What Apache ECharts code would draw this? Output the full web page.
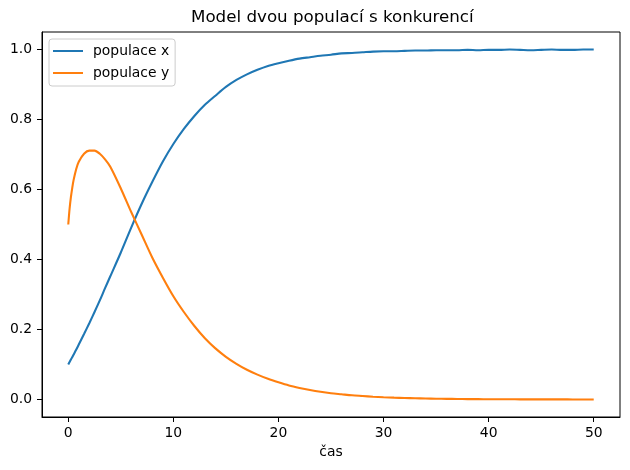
<!DOCTYPE html>
<html>
<head>
<meta charset="utf-8">
<script src="https://cdn.jsdelivr.net/npm/echarts@6/dist/echarts.min.js"></script>
<style>
html,body{margin:0;padding:0;background:#fff;}
#chart{width:630px;height:470px;}
</style>
</head>
<body>
<div id="chart"></div>
<script>
const titleText = 'Model dvou populací s konkurencí';
const xName = 'čas';
const seriesNames = ['populace x', 'populace y'];
const xTicks = [0, 10, 20, 30, 40, 50];
const yTicks = [0, 0.2, 0.4, 0.6, 0.8, 1.0];

const time = [0, 0.125, 0.25, 0.375, 0.5, 0.75, 1, 1.5, 2, 2.5, 3, 3.5, 4, 5, 6, 7, 8, 9, 10,
  11, 12, 13, 14, 15, 16, 17, 18, 19, 20, 21, 22, 23, 24, 25, 26, 27, 28, 29, 30,
  31, 32, 33, 34, 35, 36, 37, 38, 39, 40, 41, 42, 43, 44, 45, 46, 47, 48, 49, 50];

const popX = [0.100, 0.107, 0.114, 0.121, 0.128, 0.142, 0.157, 0.187, 0.218, 0.250, 0.283, 0.318, 0.352, 0.420, 0.492, 0.560, 0.622, 0.680, 0.730,
  0.773, 0.810, 0.842, 0.868, 0.893, 0.913, 0.929, 0.942, 0.953, 0.961, 0.968, 0.974, 0.978, 0.982, 0.985, 0.989, 0.990, 0.992, 0.994, 0.995,
  0.995, 0.996, 0.997, 0.997, 0.998, 0.998, 0.998, 0.999, 0.998, 0.999, 0.999, 1.000, 0.999, 0.998, 0.999, 1.000, 0.999, 0.999, 1.000, 1.000];

const popY = [0.500, 0.545, 0.578, 0.604, 0.626, 0.658, 0.679, 0.702, 0.711, 0.711, 0.702, 0.686, 0.665, 0.603, 0.535, 0.470, 0.405, 0.348, 0.295,
  0.250, 0.210, 0.175, 0.146, 0.122, 0.102, 0.085, 0.071, 0.059, 0.049, 0.040, 0.033, 0.027, 0.022, 0.018, 0.015, 0.012, 0.010, 0.008, 0.0065,
  0.0053, 0.0043, 0.0035, 0.0028, 0.0023, 0.0019, 0.0015, 0.0012, 0.0010, 0.0008, 0.0007, 0.0006, 0.0005, 0.0004, 0.0004, 0.0003, 0.0003, 0.0002, 0.0002, 0.0002];

const font = 'DejaVu Sans';
const chart = echarts.init(document.getElementById('chart'), null, {renderer: 'canvas'});
chart.setOption({
  backgroundColor: '#fff',
  animation: false,
  title: {
    text: titleText,
    left: 191, top: 9, padding: 0,
    textStyle: {fontFamily: font, fontSize: 16.7, fontWeight: 'normal', color: '#000'}
  },
  legend: {
    left: 49, top: 39,
    orient: 'vertical',
    icon: 'rect',
    itemWidth: 30, itemHeight: 2,
    itemGap: 6,
    padding: [4, 6, 5, 4],
    backgroundColor: 'rgba(255,255,255,0.8)',
    borderColor: '#cccccc', borderWidth: 1, borderRadius: 3,
    textStyle: {fontFamily: font, fontSize: 13.9, color: '#000', lineHeight: 16, padding: [0, 0, 0, 5]},
    data: seriesNames
  },
  grid: {
    left: 42, right: 10, top: 32, bottom: 53,
    show: true, borderColor: '#000', borderWidth: 1, backgroundColor: 'transparent',
    containLabel: false
  },
  xAxis: {
    type: 'value', min: -2.5, max: 52.5,
    name: xName, nameLocation: 'middle', nameGap: 27,
    nameTextStyle: {fontFamily: font, fontSize: 13.9, color: '#000'},
    axisLine: {show: true, onZero: false, lineStyle: {color: '#000', width: 1}},
    axisTick: {show: true, length: 5, inside: false, customValues: xTicks, lineStyle: {color: '#000'}},
    axisLabel: {customValues: xTicks, margin: 9, fontFamily: font, fontSize: 13.9, color: '#000'},
    splitLine: {show: false}
  },
  yAxis: {
    type: 'value', min: -0.05, max: 1.05,
    axisLine: {show: true, onZero: false, lineStyle: {color: '#000', width: 1}},
    axisTick: {show: true, length: 5, inside: false, customValues: yTicks, lineStyle: {color: '#000'}},
    axisLabel: {customValues: yTicks, margin: 10, fontFamily: font, fontSize: 13.9, color: '#000',
      formatter: v => v.toFixed(1)},
    splitLine: {show: false}
  },
  series: [
    {name: seriesNames[0], type: 'line', showSymbol: false, smooth: 0.3,
      data: time.map((t, i) => [t, popX[i]]),
      lineStyle: {color: '#1f77b4', width: 2.1}, itemStyle: {color: '#1f77b4'}},
    {name: seriesNames[1], type: 'line', showSymbol: false, smooth: 0.3,
      data: time.map((t, i) => [t, popY[i]]),
      lineStyle: {color: '#ff7f0e', width: 2.1}, itemStyle: {color: '#ff7f0e'}}
  ]
});
</script>
</body>
</html>
